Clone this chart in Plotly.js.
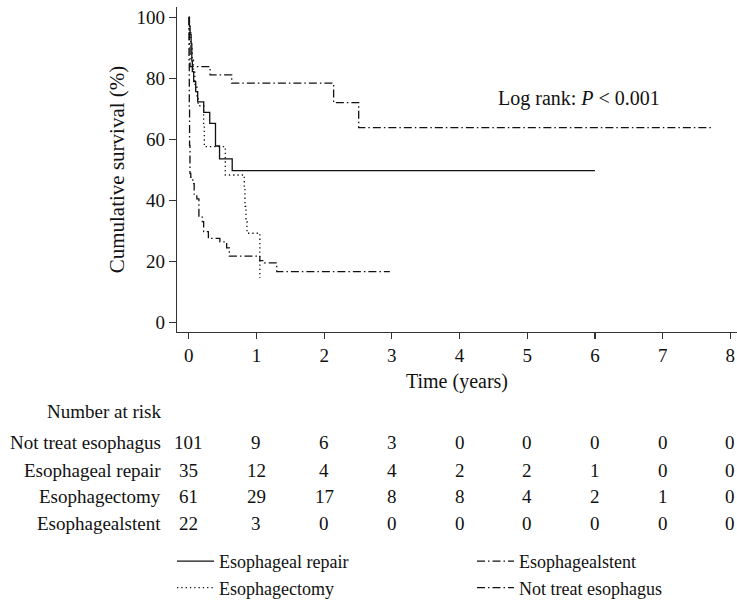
<!DOCTYPE html>
<html>
<head>
<meta charset="utf-8">
<script src="https://cdn.plot.ly/plotly-3.0.1.min.js"></script>
<style>html,body{margin:0;padding:0;background:#fff;}#chart{width:737px;height:608px;}</style>
</head>
<body>
<div id="chart"></div>
<script>
// Kaplan-Meier step data (time in years, cumulative survival in %)
var timeRepair = [0, 0.01, 0.02, 0.035, 0.045, 0.053, 0.073, 0.103, 0.132, 0.221, 0.31, 0.395, 0.455, 0.642, 6.0];
var survRepair = [100, 97.1, 94.3, 91.4, 85.7, 82.2, 78.9, 75.6, 72.3, 68.8, 65.2, 57.8, 53.6, 49.7, 49.7];

var timeStent = [0, 0.005, 0.01, 0.02, 0.315, 0.635, 2.14, 2.51, 7.74];
var survStent = [100, 95.5, 90.9, 83.8, 81.1, 78.4, 72.0, 63.8, 63.8];

var timeEctomy = [0, 0.01, 0.03, 0.05, 0.07, 0.09, 0.12, 0.14, 0.22, 0.23, 0.54, 0.82, 0.83, 0.845, 0.86, 1.05];
var survEctomy = [100, 95, 90, 86, 82, 78, 74, 71, 64, 57.6, 48.3, 44, 38, 33, 29.2, 14.5];

var timeNone = [0, 0.004, 0.008, 0.012, 0.018, 0.03, 0.06, 0.08, 0.12, 0.15, 0.2, 0.22, 0.29, 0.46, 0.56, 0.6, 1.05, 1.12, 1.3, 2.97];
var survNone = [100, 85, 70, 58, 48.8, 47.5, 45.5, 42, 40.5, 34.5, 33, 29.7, 27.5, 26.4, 24.4, 21.7, 20.2, 19.5, 16.6, 16.6];

// Number at risk table
var riskTimes = [0, 1, 2, 3, 4, 5, 6, 7, 8];
var riskLabels = ["Not treat esophagus", "Esophageal repair", "Esophagectomy", "Esophagealstent"];
var riskNone = [101, 9, 6, 3, 0, 0, 0, 0, 0];
var riskRepair = [35, 12, 4, 4, 2, 2, 1, 0, 0];
var riskEctomy = [61, 29, 17, 8, 8, 4, 2, 1, 0];
var riskStent = [22, 3, 0, 0, 0, 0, 0, 0, 0];
var riskRows = [riskNone, riskRepair, riskEctomy, riskStent];

var FONT = "Liberation Serif, Times New Roman, serif";
var W = 737, H = 608;
var mL = 177, mR = 0, mT = 7, mB = 276;
var plotH = H - mT - mB;
var plotW = W - mL - mR;
function py(px) { return (H - mB - px) / plotH; }
function pxX(px) { return (px - mL) / plotW; }

function km(name, t, s, dash, leg) {
  return {
    type: 'scatter', mode: 'lines', name: name, x: t, y: s, legend: leg,
    line: {shape: 'hv', color: '#111', width: 1.3, dash: dash},
    hoverinfo: 'skip'
  };
}

var traces = [
  km('Esophageal repair', timeRepair, survRepair, 'solid', 'legend'),
  km('Esophagectomy', timeEctomy, survEctomy, '1.3px,3px', 'legend'),
  km('Esophagealstent', timeStent, survStent, '8px,3px,1.5px,3px', 'legend2'),
  km('Not treat esophagus', timeNone, survNone, '8px,3px,1.5px,3px', 'legend2')
];

var TS = 19;
var rowY = [442.7, 470, 496.7, 523.3];
var ann = [];
ann.push({xref: 'paper', yref: 'paper', x: pxX(163), y: py(411.7), xanchor: 'right', yanchor: 'middle',
  text: 'Number at risk', showarrow: false, font: {family: FONT, size: TS, color: '#111'}});
for (var r = 0; r < riskLabels.length; r++) {
  ann.push({xref: 'paper', yref: 'paper', x: pxX(163), y: py(rowY[r]), xanchor: 'right', yanchor: 'middle',
    text: riskLabels[r], showarrow: false, font: {family: FONT, size: TS, color: '#111'}});
  for (var c = 0; c < riskTimes.length; c++) {
    ann.push({xref: 'x', yref: 'paper', x: riskTimes[c], y: py(rowY[r]), xanchor: 'center', yanchor: 'middle',
      text: String(riskRows[r][c]), showarrow: false, font: {family: FONT, size: TS, color: '#111'}});
  }
}
ann.push({xref: 'paper', yref: 'paper', x: pxX(579), y: py(98.3), xanchor: 'center', yanchor: 'middle',
  text: 'Log rank: <i>P</i> < 0.001', showarrow: false, font: {family: FONT, size: 20, color: '#111'}});

var x0 = 188.75, pxPerYear = 67.7;
var y0 = 322.3, pxPerPct = 3.05;

function legendAt(xpx) {
  return {
    orientation: 'v', x: pxX(xpx), y: py(543), xanchor: 'left', yanchor: 'top',
    traceorder: 'normal', tracegroupgap: 0, itemwidth: 37,
    font: {family: FONT, size: 18, color: '#111'}, bgcolor: 'rgba(0,0,0,0)'
  };
}

var layout = {
  width: W, height: H,
  margin: {l: mL, r: mR, t: mT, b: mB, pad: 0, autoexpand: false},
  paper_bgcolor: '#fff', plot_bgcolor: '#fff',
  font: {family: FONT, size: TS, color: '#111'},
  showlegend: true,
  legend: legendAt(172),
  legend2: legendAt(472),
  xaxis: {
    range: [(mL - x0) / pxPerYear, (W - mR - x0) / pxPerYear],
    tickmode: 'array', tickvals: riskTimes, ticktext: riskTimes.map(String),
    showgrid: false, zeroline: false, showline: true, linecolor: '#333', linewidth: 1.2,
    ticks: 'outside', ticklen: 6, tickwidth: 1.2, tickcolor: '#333',
    tickfont: {family: FONT, size: 19, color: '#111'},
    title: {text: 'Time (years)', font: {family: FONT, size: 20, color: '#111'}, standoff: 9},
    fixedrange: true
  },
  yaxis: {
    range: [-(mT + plotH - y0) / pxPerPct, (y0 - mT) / pxPerPct],
    tickmode: 'array', tickvals: [0, 20, 40, 60, 80, 100],
    showgrid: false, zeroline: false, showline: true, linecolor: '#333', linewidth: 1.2,
    ticks: 'outside', ticklen: 7, tickwidth: 1.2, tickcolor: '#333',
    tickfont: {family: FONT, size: 19, color: '#111'},
    title: {text: 'Cumulative survival (%)', font: {family: FONT, size: 21, color: '#111'}, standoff: 6},
    fixedrange: true
  },
  annotations: ann
};

Plotly.newPlot('chart', traces, layout, {displayModeBar: false, staticPlot: true});
</script>
</body>
</html>
